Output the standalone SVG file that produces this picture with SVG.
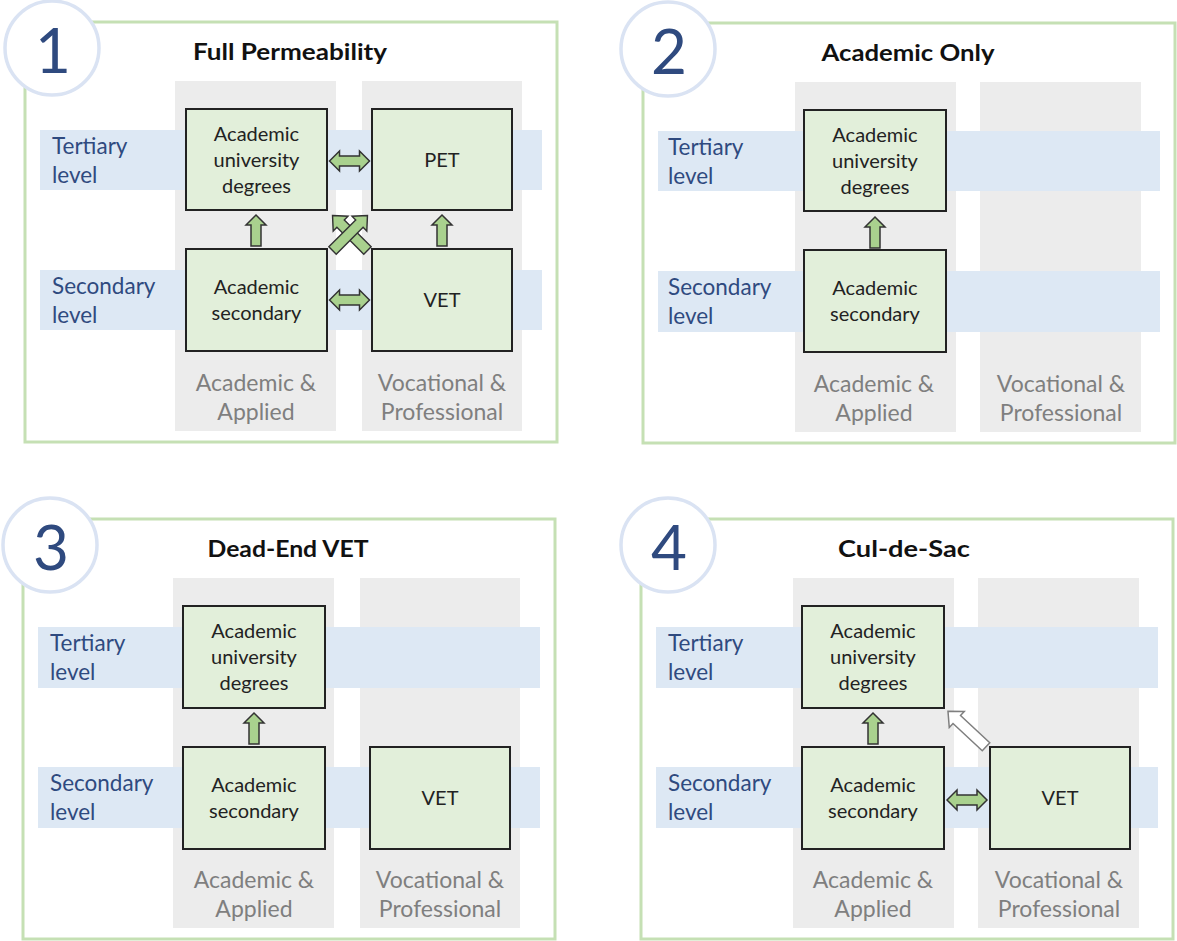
<svg xmlns="http://www.w3.org/2000/svg" width="1177" height="941" viewBox="0 0 1177 941">
<style>
.bg{fill:#ffffff}
.frame{fill:#ffffff;stroke:#c5e0b4;stroke-width:3}
.circ{fill:#ffffff;stroke:#dae3f3;stroke-width:3.5}
.num{font-family:Lato,"Liberation Sans",sans-serif;font-size:62px;fill:#2f4a7f;text-anchor:middle}
.title{font-family:Lato,"Liberation Sans",sans-serif;font-size:23px;font-weight:bold;fill:#111111;text-anchor:middle}
.col{fill:#ececec}
.band{fill:#dde8f4}
.lvl{font-family:Lato,"Liberation Sans",sans-serif;font-size:22.5px;fill:#2f4a7f}
.clab{font-family:Lato,"Liberation Sans",sans-serif;font-size:23px;fill:#7f7f7f;text-anchor:middle}
.box{fill:#e2efda;stroke:#222222;stroke-width:2}
.btxt{font-family:Lato,"Liberation Sans",sans-serif;font-size:20px;fill:#222222;text-anchor:middle}
.arr{fill:#a9d18e;stroke:#333333;stroke-width:1.5;stroke-linejoin:miter}
.warr{fill:#ffffff;stroke:#7f7f7f;stroke-width:1.5}
</style>
<defs>
<path id="dbl" d="M-20,0 L-10,-10 L-10,-5 L10,-5 L10,-10 L20,0 L10,10 L10,5 L-10,5 L-10,10 Z"/>
<path id="up" d="M0,-15 L10,-5 L5,-5 L5,16 L-5,16 L-5,-5 L-10,-5 Z"/>
<path id="diag" d="M0,-26 L11,-14 L5.5,-14 L5.5,26 L-5.5,26 L-5.5,-14 L-11,-14 Z"/>
</defs>
<rect class="bg" x="0" y="0" width="1177" height="941"/>

<!-- Panel 1 -->
<g id="panel1">
  <rect class="frame" x="25" y="22" width="532" height="420"/>
  <rect class="col" x="175" y="81" width="161" height="350"/>
  <rect class="col" x="362" y="81" width="160" height="350"/>
  <rect class="band" x="40" y="130" width="502" height="60"/>
  <rect class="band" x="40" y="270" width="502" height="60"/>
  <circle class="circ" cx="52" cy="48" r="47"/>
  <text class="num" x="53" y="73">1</text>
  <text class="title" x="290" y="60" textLength="194" lengthAdjust="spacingAndGlyphs">Full Permeability</text>
  <text class="lvl" x="52" y="154">Tertiary</text>
  <text class="lvl" x="52" y="183">level</text>
  <text class="lvl" x="52" y="294">Secondary</text>
  <text class="lvl" x="52" y="323">level</text>
  <text class="clab" x="256" y="391">Academic &amp;</text>
  <text class="clab" x="256" y="420">Applied</text>
  <text class="clab" x="442" y="391">Vocational &amp;</text>
  <text class="clab" x="442" y="420">Professional</text>
  <g id="p1-acad-uni"><rect class="box" x="186" y="109" width="141" height="101"/>
    <text class="btxt" x="256.5" y="141">Academic</text><text class="btxt" x="256.5" y="167">university</text><text class="btxt" x="256.5" y="193">degrees</text></g>
  <g id="p1-pet"><rect class="box" x="372" y="109" width="140" height="101"/>
    <text class="btxt" x="442" y="167">PET</text></g>
  <g id="p1-acad-sec"><rect class="box" x="186" y="249" width="141" height="102"/>
    <text class="btxt" x="256.5" y="294">Academic</text><text class="btxt" x="256.5" y="320">secondary</text></g>
  <g id="p1-vet"><rect class="box" x="372" y="249" width="140" height="102"/>
    <text class="btxt" x="442" y="307">VET</text></g>
  <g id="p1-connectors">
    <use href="#dbl" class="arr" transform="translate(349.5,161)"/>
    <use href="#dbl" class="arr" transform="translate(349.5,300)"/>
    <use href="#up" class="arr" transform="translate(256,230)"/>
    <use href="#up" class="arr" transform="translate(442,230)"/>
    <use href="#diag" class="arr" transform="translate(350,233) rotate(-45) scale(0.95)"/>
    <use href="#diag" class="arr" transform="translate(350,233) rotate(45) scale(0.95)"/>
  </g>
</g>

<!-- Panel 2 -->
<g id="panel2" transform="translate(618,1)">
  <rect class="frame" x="25" y="22" width="532" height="420"/>
  <rect class="col" x="177" y="81" width="161" height="350"/>
  <rect class="col" x="362" y="81" width="161" height="350"/>
  <rect class="band" x="40" y="130" width="502" height="60"/>
  <rect class="band" x="40" y="270" width="502" height="61"/>
  <circle class="circ" cx="50" cy="48" r="47"/>
  <text class="num" x="51" y="73">2</text>
  <text class="title" x="290" y="60" textLength="173" lengthAdjust="spacingAndGlyphs">Academic Only</text>
  <text class="lvl" x="50" y="154">Tertiary</text>
  <text class="lvl" x="50" y="183">level</text>
  <text class="lvl" x="50" y="294">Secondary</text>
  <text class="lvl" x="50" y="323">level</text>
  <text class="clab" x="256" y="391">Academic &amp;</text>
  <text class="clab" x="256" y="420">Applied</text>
  <text class="clab" x="443" y="391">Vocational &amp;</text>
  <text class="clab" x="443" y="420">Professional</text>
  <g id="p2-acad-uni"><rect class="box" x="186" y="109" width="142" height="101"/>
    <text class="btxt" x="257" y="141">Academic</text><text class="btxt" x="257" y="167">university</text><text class="btxt" x="257" y="193">degrees</text></g>
  <g id="p2-acad-sec"><rect class="box" x="186" y="249" width="142" height="102"/>
    <text class="btxt" x="257" y="294">Academic</text><text class="btxt" x="257" y="320">secondary</text></g>
  <g id="p2-connectors">
    <use href="#up" class="arr" transform="translate(257,231)"/>
  </g>
</g>

<!-- Panel 3 -->
<g id="panel3" transform="translate(-2,497)">
  <rect class="frame" x="25" y="22" width="532" height="420"/>
  <rect class="col" x="175" y="81" width="161" height="350"/>
  <rect class="col" x="362" y="81" width="160" height="350"/>
  <rect class="band" x="40" y="130" width="502" height="61"/>
  <rect class="band" x="40" y="270" width="502" height="61"/>
  <circle class="circ" cx="52" cy="48" r="47"/>
  <text class="num" x="53" y="73">3</text>
  <text class="title" x="290" y="60" textLength="161" lengthAdjust="spacingAndGlyphs">Dead-End VET</text>
  <text class="lvl" x="52" y="154">Tertiary</text>
  <text class="lvl" x="52" y="183">level</text>
  <text class="lvl" x="52" y="294">Secondary</text>
  <text class="lvl" x="52" y="323">level</text>
  <text class="clab" x="256" y="391">Academic &amp;</text>
  <text class="clab" x="256" y="420">Applied</text>
  <text class="clab" x="442" y="391">Vocational &amp;</text>
  <text class="clab" x="442" y="420">Professional</text>
  <g id="p3-acad-uni"><rect class="box" x="185" y="109" width="142" height="102"/>
    <text class="btxt" x="256" y="141">Academic</text><text class="btxt" x="256" y="167">university</text><text class="btxt" x="256" y="193">degrees</text></g>
  <g id="p3-acad-sec"><rect class="box" x="185" y="250" width="142" height="102"/>
    <text class="btxt" x="256" y="295">Academic</text><text class="btxt" x="256" y="321">secondary</text></g>
  <g id="p3-vet"><rect class="box" x="372" y="250" width="140" height="102"/>
    <text class="btxt" x="442" y="308">VET</text></g>
  <g id="p3-connectors">
    <use href="#up" class="arr" transform="translate(256,231)"/>
  </g>
</g>

<!-- Panel 4 -->
<g id="panel4" transform="translate(616,497)">
  <rect class="frame" x="25" y="22" width="532" height="420"/>
  <rect class="col" x="177" y="81" width="161" height="350"/>
  <rect class="col" x="362" y="81" width="161" height="350"/>
  <rect class="band" x="40" y="130" width="502" height="61"/>
  <rect class="band" x="40" y="270" width="502" height="61"/>
  <circle class="circ" cx="52" cy="48" r="47"/>
  <text class="num" x="53" y="73">4</text>
  <text class="title" x="288" y="60" textLength="132" lengthAdjust="spacingAndGlyphs">Cul-de-Sac</text>
  <text class="lvl" x="52" y="154">Tertiary</text>
  <text class="lvl" x="52" y="183">level</text>
  <text class="lvl" x="52" y="294">Secondary</text>
  <text class="lvl" x="52" y="323">level</text>
  <text class="clab" x="257" y="391">Academic &amp;</text>
  <text class="clab" x="257" y="420">Applied</text>
  <text class="clab" x="443" y="391">Vocational &amp;</text>
  <text class="clab" x="443" y="420">Professional</text>
  <g id="p4-acad-uni"><rect class="box" x="186" y="109" width="142" height="102"/>
    <text class="btxt" x="257" y="141">Academic</text><text class="btxt" x="257" y="167">university</text><text class="btxt" x="257" y="193">degrees</text></g>
  <g id="p4-acad-sec"><rect class="box" x="186" y="250" width="142" height="102"/>
    <text class="btxt" x="257" y="295">Academic</text><text class="btxt" x="257" y="321">secondary</text></g>
  <g id="p4-vet"><rect class="box" x="374" y="250" width="140" height="102"/>
    <text class="btxt" x="444" y="308">VET</text></g>
  <g id="p4-connectors">
    <use href="#up" class="arr" transform="translate(257,231)"/>
    <use href="#dbl" class="arr" transform="translate(351,303)"/>
    <use href="#diag" class="warr" transform="translate(351,232) rotate(-47)"/>
  </g>
</g>
</svg>
